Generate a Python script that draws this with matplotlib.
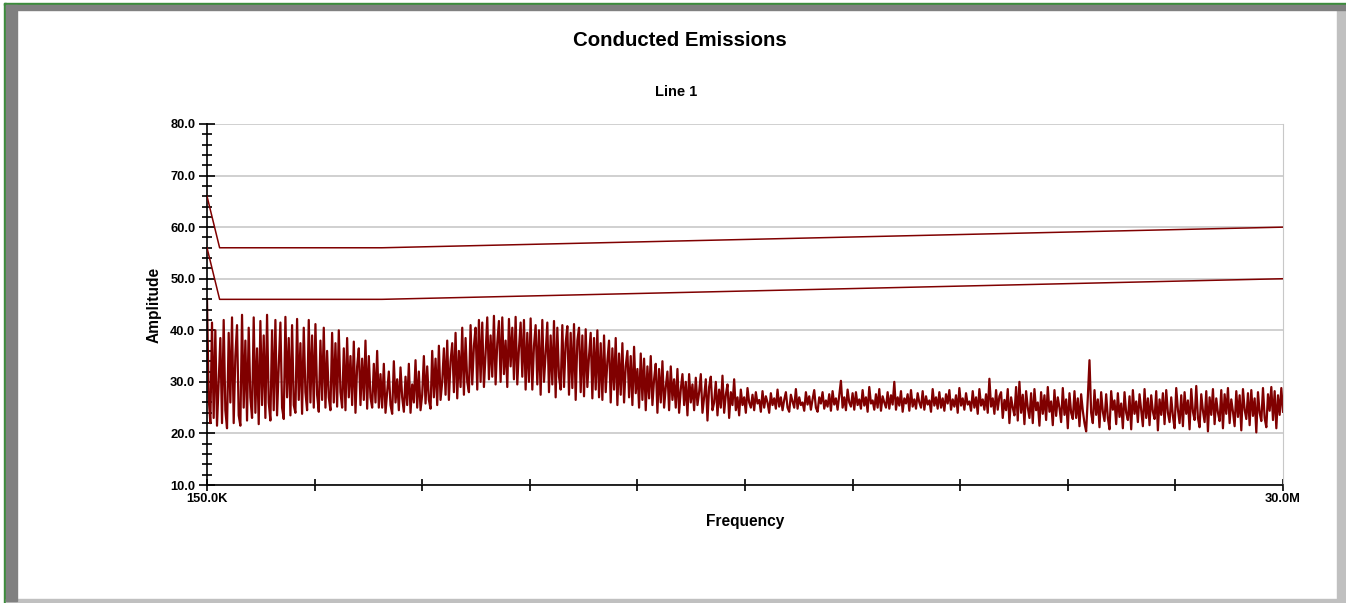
import numpy as np
import matplotlib
matplotlib.use("Agg")
import matplotlib.pyplot as plt
from matplotlib.patches import Rectangle

plt.rcParams['font.family'] = ['Liberation Sans', 'DejaVu Sans']
plt.rcParams['font.weight'] = 'bold'

# limit lines (Hz, dBuV)
limit_freq = [150e3, 500e3, 5e6, 30e6]
limit_qp = [66.0, 56.0, 56.0, 60.0]
limit_avg = [56.0, 46.0, 46.0, 50.0]

amp_low = [46.0, 27.0, 22.0, 41.5, 23.0, 40.0, 21.5, 30.0, 38.5, 22.0, 42.0, 24.5, 21.0, 39.5, 26.0, 42.5,
           22.0, 35.0, 41.0, 23.5, 21.5, 43.0, 25.0, 38.0, 22.5, 40.5, 27.0, 23.0, 42.5, 24.0, 36.5, 21.8,
           41.8, 25.5, 39.0, 23.0, 43.0, 26.0, 22.5, 40.0, 24.5, 42.0, 23.5, 33.0, 41.5, 25.0, 22.8, 42.6,
           27.0, 38.5, 23.5, 41.0, 25.5, 24.0, 42.2, 26.5, 37.5, 23.8, 40.5, 28.0, 24.5, 42.0, 26.0, 39.0,
           25.0, 41.2, 27.5, 24.2, 38.0, 26.5, 40.5, 25.0, 36.0, 27.0, 24.5, 39.5, 26.0, 37.5, 25.2, 40.0,
           28.0, 25.0, 36.5, 24.5, 38.5, 27.0, 35.0, 25.5, 37.8, 24.0, 33.0, 36.5, 25.5, 34.5, 26.5, 38.0,
           24.8, 35.0, 27.0, 25.0, 33.5, 26.0, 36.0, 25.0]
amp_dip = [31.5, 25.0, 33.5, 24.0, 28.0, 32.0, 25.5, 23.8, 34.0, 26.0, 30.5, 24.5, 32.8, 27.0, 24.2, 31.0,
           25.5, 33.5, 24.0, 29.5, 26.0, 34.2, 25.0, 32.0, 24.5, 27.5, 35.0, 25.8, 33.0, 26.5, 24.8, 36.0,
           27.0, 34.5, 25.5, 37.0, 26.5, 30.0, 36.5]
amp_hump = [27.5, 38.0, 26.5, 34.0, 37.5, 28.0, 39.5, 26.8, 36.0, 29.0, 40.5, 27.5, 38.5, 30.0, 28.0, 41.0,
            29.5, 37.0, 40.5, 28.5, 42.0,
            30.0, 41.5, 29.0, 35.5, 42.5, 30.5, 39.0, 31.0, 42.8, 29.5, 37.5, 41.8, 30.0, 42.5, 31.5, 38.0,
            29.0, 42.2, 33.0, 40.5, 30.5, 42.6, 29.5, 36.5, 41.5, 31.0, 42.0, 28.5, 39.5, 30.0,
            42.3, 28.5, 37.0, 41.0, 29.5, 40.0, 27.5, 42.0, 30.0, 35.5, 41.5, 28.0, 39.0, 29.5, 41.8, 27.0,
            40.5, 31.0, 28.5, 41.0, 29.0, 37.5, 40.8, 27.5, 39.5, 28.8, 41.2, 26.5, 38.0, 40.5, 28.0, 39.0,
            27.2, 40.2, 29.0, 35.0, 39.5, 26.8, 38.5, 28.5, 40.0, 27.0,
            37.5, 26.5, 39.0, 28.0, 34.0, 38.0, 26.0, 36.5, 28.5, 38.5, 25.5, 35.5, 27.5, 37.5, 26.0, 33.0,
            36.0, 27.0, 35.0, 25.5, 36.8, 27.8, 32.5, 25.0, 35.5, 26.5, 34.5, 24.5, 33.0, 26.8,
            35.0, 25.5, 30.5, 33.5, 24.0, 32.5, 26.0, 34.0, 25.0, 29.0, 32.0, 24.5, 33.0, 26.5, 30.5, 25.0,
            32.5, 24.0, 28.5, 31.5, 25.5, 30.0, 23.5, 31.5, 26.0, 29.5, 24.5, 30.8, 25.5, 28.0]
amp_band = [31.5, 24.0, 27.0, 30.5, 22.5, 29.0, 31.0, 24.5, 26.0, 30.0, 23.5, 28.5, 25.0, 31.2, 24.0, 27.5,
            29.5, 23.0, 28.0, 25.5, 30.5, 24.5, 27.0, 23.5,
            28.5, 25.5, 27.0, 24.0, 28.8, 26.0, 25.0, 27.5, 24.5, 28.0, 25.8, 26.5, 24.2, 28.2, 25.0, 27.2,
            26.0, 24.0, 27.8, 25.5, 26.8, 24.8, 28.5, 25.2, 27.0, 24.5, 26.5, 28.0, 25.0, 24.2, 27.5, 26.2,
            25.0, 28.6, 24.8, 27.0, 25.5, 26.0, 24.4, 28.0, 25.6, 27.2, 24.6, 26.6, 28.4, 25.0, 24.2, 27.0,
            25.8, 28.0, 24.8, 26.4, 25.2, 27.6, 24.4, 28.2, 25.6, 26.8, 24.6, 27.4,
            30.2, 25.0, 27.0, 24.5, 28.5, 26.0, 25.2, 27.8, 24.6, 28.0, 25.5, 26.6, 24.8, 28.4, 25.4, 27.0,
            24.2, 29.0, 25.8, 26.4, 24.6, 27.6, 25.0, 28.6, 24.4, 27.2, 26.0, 25.0, 28.0, 24.8, 27.4, 25.6,
            30.0, 24.6, 27.0, 25.4, 28.2, 24.2, 26.8, 25.8, 27.6, 24.4, 28.4, 25.2, 26.6, 24.8, 27.8, 26.0,
            25.0, 28.2, 24.6, 27.2, 25.6, 26.4, 24.2, 28.6, 25.4, 27.0, 24.8, 28.0, 25.0, 26.8, 24.4, 27.6,
            25.8, 28.4, 24.6, 26.6, 25.2, 27.4, 24.0, 28.8, 25.4, 26.8, 24.6, 27.8, 25.6, 26.2, 24.4, 28.2,
            25.0, 27.0, 23.8, 28.6, 25.4, 26.6, 24.6, 27.6, 24.0, 30.6, 25.2, 26.8, 23.8, 28.4, 24.6, 27.2]
amp_high = [28.0, 23.0, 26.5, 24.5, 28.6, 22.0, 27.0, 25.0, 23.5, 29.0, 22.5, 30.0, 24.0, 27.5, 21.8, 28.2,
            25.0, 23.0, 27.8, 22.0, 28.6, 24.5, 26.0, 21.5, 28.0, 23.8, 27.4, 22.6, 29.0, 24.2, 26.2, 21.6,
            28.4, 23.4, 27.0, 25.0, 22.2, 28.8, 23.6, 26.6, 21.0, 27.8, 24.0, 22.8, 28.2, 23.0, 26.8, 21.4,
            27.6, 24.4, 22.0, 20.4, 27.0, 34.2, 24.0,
            22.0, 28.4, 23.6, 26.6, 21.2, 28.0, 24.2, 22.4, 27.6, 23.0, 20.8, 28.2, 24.6, 26.4, 21.8, 27.8,
            23.2, 25.8, 21.0, 28.0, 24.0, 22.6, 27.2, 20.8, 28.4, 23.8, 26.2, 22.2, 27.6, 24.4, 21.4, 28.6,
            23.0, 26.8, 21.6, 27.4, 24.2, 22.8, 28.2, 20.6, 26.6, 23.6, 27.8, 21.8, 28.4, 24.0, 22.2, 27.0,
            23.4, 21.0, 28.8, 24.6, 22.0, 27.4, 21.4, 28.0, 23.8, 26.4, 20.8, 28.6, 24.2, 22.6, 29.2, 23.0,
            21.2, 27.6, 24.4, 22.2, 28.2, 20.4, 27.0, 23.6, 28.6, 21.8, 26.8, 24.0, 22.4, 28.4, 21.0, 27.6,
            23.8, 28.8, 22.0, 26.6, 24.2, 21.4, 28.2, 23.2, 27.4, 20.6, 28.6, 24.6, 22.8, 27.8, 21.6, 28.4,
            23.4, 26.8, 20.2, 28.0, 24.0, 22.4, 28.8, 23.0, 21.2, 27.6, 24.4, 29.0, 22.6, 28.2, 21.0, 27.4,
            23.6, 28.8, 24.2]

amp = np.array(amp_low + amp_dip + amp_hump + amp_band + amp_high)
freq = np.linspace(150e3, 30e6, len(amp))

W, H = 1346, 603
fig = plt.figure(figsize=(W / 100, H / 100), dpi=100)
fig.patch.set_facecolor('white')

def px_rect(x, y, w, h, color):
    fig.patches.append(Rectangle((x / W, 1 - (y + h) / H), w / W, h / H,
                                 transform=fig.transFigure, color=color, zorder=0))

# window frame
px_rect(4, 3, 1342, 2, '#3c8c3c')
px_rect(4, 3, 2, 600, '#3c8c3c')
px_rect(1337, 9, 9, 594, '#c0c0c0')
px_rect(6, 599, 1340, 4, '#c0c0c0')
px_rect(6, 5, 1340, 5, '#808080')
px_rect(6, 5, 11, 596, '#808080')

ax = fig.add_axes([207 / W, 1 - 485 / H, 1076 / W, 361 / H])
ax.plot(limit_freq, limit_qp, color='#800000', lw=1.1, zorder=3)
ax.plot(limit_freq, limit_avg, color='#800000', lw=1.1, zorder=3)
ax.plot(freq, amp, color='#800000', lw=1.6, zorder=2)

ax.set_xlim(150e3, 30e6)
ax.set_ylim(10, 80)
ax.set_yticks(np.arange(10, 81, 10))
ax.set_yticks(np.arange(10, 81, 2), minor=True)
ax.set_yticklabels(['%.1f' % v for v in np.arange(10, 81, 10)])
xt = np.linspace(150e3, 30e6, 11)
ax.set_xticks(xt)
ax.set_xticklabels(['150.0K'] + [''] * 9 + ['30.0M'])
ax.tick_params(axis='y', which='major', direction='inout', length=11, width=1.2,
               labelsize=9.3, pad=3)
ax.tick_params(axis='y', which='minor', direction='inout', length=7, width=1.2)
ax.tick_params(axis='x', which='major', direction='inout', length=8, width=1.2,
               labelsize=9.3, pad=2)
ax.grid(axis='y', which='major', color='#c8c8c8', lw=1.2)
ax.set_axisbelow(True)
ax.spines['top'].set_visible(False)
ax.spines['right'].set_color('#c8c8c8')
ax.spines['left'].set_linewidth(1.2)
ax.spines['bottom'].set_linewidth(1.2)

ax.set_xlabel('Frequency', fontsize=11.2, fontweight='bold', labelpad=6)
ax.set_ylabel('Amplitude', fontsize=11.2, fontweight='bold', labelpad=6)
fig.text(680 / W, 1 - 41 / H, 'Conducted Emissions', fontsize=14.7, fontweight='bold',
         ha='center', va='center')
fig.text(676 / W, 1 - 92 / H, 'Line 1', fontsize=10.5, fontweight='bold',
         ha='center', va='center')

fig.savefig('out.png', dpi=100)
